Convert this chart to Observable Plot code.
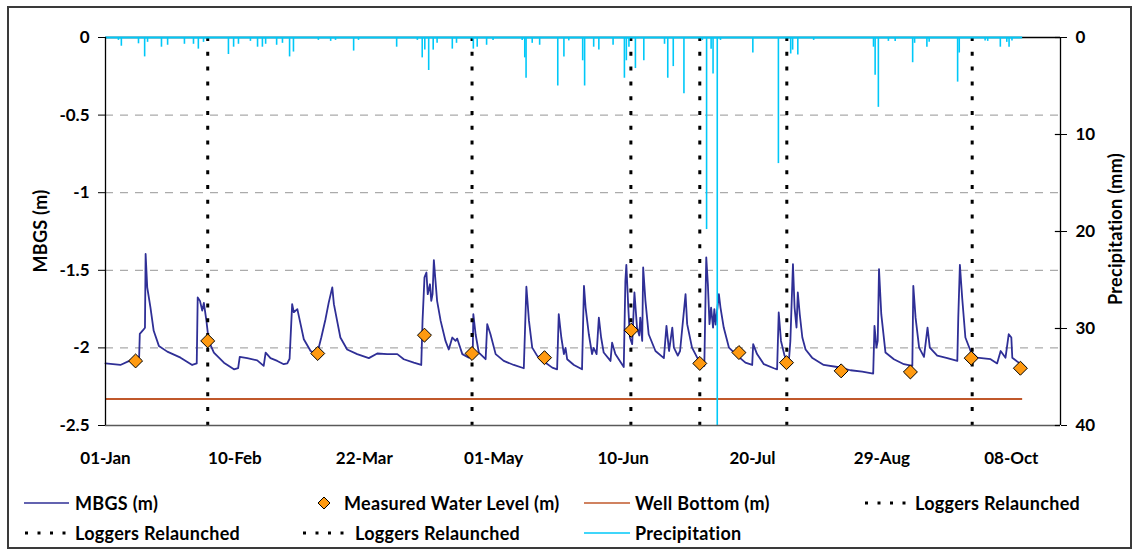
<!DOCTYPE html>
<html>
<head>
<meta charset="utf-8">
<script src="https://cdn.jsdelivr.net/npm/d3@7"></script>
<script src="https://cdn.jsdelivr.net/npm/@observablehq/plot@0.6"></script>
<style>
  html, body { margin: 0; padding: 0; background: #fff; }
  body { width: 1138px; height: 550px; position: relative; overflow: hidden; font-family: Lato, sans-serif; font-weight: 700; color: #000; }
  #chart { position: absolute; left: 0; top: 0; }
  #frame { position: absolute; left: 7px; top: 6px; width: 1121px; height: 539px; border: 2px solid #3a3a3a; pointer-events: none; }
  .leg { position: absolute; font-size: 18px; letter-spacing: 0.3px; line-height: 22px; white-space: nowrap; }
  .sw { position: absolute; }
  .ytitle { position: absolute; font-size: 18px; letter-spacing: 0.3px; white-space: nowrap; transform: translate(-50%, -50%) rotate(-90deg); }
</style>
</head>
<body>
<div id="chart"></div>
<div id="legend"></div>
<div class="ytitle" id="ylab" style="left:40px; top:231px;"></div>
<div class="ytitle" id="y2lab" style="left:1115px; top:229px;"></div>
<div id="frame"></div>
<script>
// ---- DATA (days counted from 01-Jan) ----
const mbgsDay = [0,4.6,7.7,10.4,10.6,11.6,12.2,12.4,12.9,13.9,14.9,16.5,19.1,23.2,26.8,28.2,28.5,29.2,29.9,30.4,31.2,31.9,33.5,36.6,39.7,41.0,41.5,43.8,46.9,48.9,49.5,51.0,53.1,55.1,56.2,56.9,57.7,58.2,59.3,60.3,61.3,63.4,65.4,66.7,68.0,69.0,70.1,70.6,71.6,72.6,74.7,77.8,81.4,84.0,87.1,90.2,92.2,95.3,97.6,98.0,98.6,99.2,99.6,100.3,100.7,101.1,101.5,102.0,102.5,103.6,105.1,106.1,107.2,108.2,108.7,110.3,112.3,113.5,113.7,114.4,115.4,117.5,118.0,119.0,120.6,123.1,126.2,129.3,129.7,130.1,130.9,131.9,133.4,135.5,138.1,139.6,140.1,140.9,141.7,142.2,142.7,144.8,147.3,147.9,148.4,149.4,150.4,150.9,151.8,152.5,153.2,154.0,156.1,156.6,157.6,160.2,160.7,161.0,161.6,162.1,162.8,163.5,164.3,165.0,165.3,165.9,166.2,166.9,167.9,170.0,172.6,173.4,174.2,175.2,175.7,176.9,177.6,179.3,179.8,181.3,182.9,185.1,185.7,186.2,186.7,187.2,187.8,188.2,188.6,189.6,190.1,191.1,192.7,195.3,197.8,199.9,200.2,201.4,203.5,206.6,207.6,208.1,208.8,209.9,211.2,211.7,212.5,213.0,213.6,214.0,214.6,215.4,216.4,218.4,222.0,226.2,230.3,233.9,237.3,237.7,238.3,238.7,239.1,239.8,241.1,243.7,246.8,249.4,249.7,250.4,251.5,253.0,254.1,254.8,257.1,260.2,263.3,263.6,264.1,264.8,265.8,267.4,269.4,273.6,275.6,276.7,278.2,279.2,280.0,280.3,282.3,283.8];
const mbgsValue = [-2.10,-2.11,-2.08,-2.06,-1.91,-1.886,-1.87,-1.395,-1.61,-1.74,-1.89,-1.987,-2.024,-2.063,-2.11,-2.10,-1.675,-1.697,-1.76,-1.71,-1.826,-1.955,-2.03,-2.095,-2.138,-2.13,-2.058,-2.066,-2.08,-2.116,-2.03,-2.066,-2.084,-2.105,-2.10,-2.07,-1.718,-1.77,-1.75,-1.847,-1.944,-2.02,-2.04,-1.933,-1.815,-1.708,-1.61,-1.718,-1.826,-1.933,-2.01,-2.04,-2.066,-2.036,-2.04,-2.04,-2.073,-2.095,-2.11,-1.826,-1.546,-1.514,-1.654,-1.59,-1.697,-1.654,-1.434,-1.568,-1.697,-1.826,-1.955,-2.01,-1.933,-1.955,-1.94,-2.04,-2.063,-2.06,-1.783,-1.912,-2.03,-2.073,-1.847,-1.912,-2.04,-2.084,-2.11,-2.131,-1.869,-1.606,-1.826,-1.998,-2.05,-2.088,-2.127,-2.138,-1.783,-1.933,-2.04,-2.0,-2.073,-2.11,-2.138,-1.60,-1.74,-1.912,-2.04,-2.0,-2.04,-1.805,-1.933,-2.03,-2.084,-1.966,-2.04,-2.123,-1.568,-1.465,-1.74,-1.933,-1.976,-1.643,-1.869,-1.92,-1.805,-1.955,-1.482,-1.697,-1.912,-2.02,-2.066,-1.858,-2.02,-1.869,-1.998,-2.05,-2.02,-1.654,-1.847,-1.998,-2.063,-2.116,-1.417,-1.589,-1.847,-1.74,-1.869,-1.75,-1.85,-1.654,-1.74,-1.869,-1.998,-2.05,-2.095,-2.11,-1.976,-2.04,-2.105,-2.131,-2.138,-1.772,-1.955,-2.05,-2.095,-1.955,-1.46,-1.74,-1.869,-1.643,-1.783,-1.933,-2.01,-2.063,-2.11,-2.123,-2.144,-2.153,-2.166,-1.858,-1.998,-1.955,-1.492,-1.783,-2.03,-2.073,-2.105,-2.116,-1.60,-1.805,-1.998,-2.058,-1.869,-1.998,-2.05,-2.066,-2.084,-1.805,-1.465,-1.675,-1.933,-2.02,-2.063,-2.073,-2.10,-2.02,-2.063,-1.912,-1.933,-2.063,-2.095,-2.127];

const measuredDay = [9.3,31.6,65.6,98.6,113.3,135.7,162.5,183.7,195.8,210.5,227.4,248.8,267.6,282.8];
const measuredValue = [-2.084,-1.955,-2.036,-1.918,-2.036,-2.063,-1.886,-2.10,-2.03,-2.095,-2.148,-2.155,-2.066,-2.131];

const relaunchDay = [31.6,113.3,162.4,183.7,210.6,267.9];

const wellBottomM = -2.33;
const recordStartDay = 0;
const recordEndDay = 283.5;

const precipDay = [4.0,4.9,10.2,12.1,13.0,17.3,19.2,24.4,27.2,28.7,30.3,38.0,39.6,41.1,44.8,47.0,48.5,49.5,52.9,54.7,56.9,58.1,65.8,69.6,71.1,76.7,78.2,90.0,96.4,97.9,98.7,99.9,101.3,102.5,107.2,108.5,113.7,114.9,117.8,119.8,128.8,129.6,130.0,131.9,134.2,139.8,141.7,143.2,147.5,148.1,150.9,152.5,156.9,160.4,161.0,161.8,163.8,166.4,172.8,173.8,175.5,178.8,184.5,185.8,187.2,187.8,189.1,190.1,200.1,208.0,211.8,212.4,214.0,218.9,237.4,237.9,238.9,242.0,244.1,249.5,250.1,253.9,254.6,263.4,263.9,271.9,272.7,276.6,278.6,279.3,280.2];
const precipMm = [0.3,0.9,0.65,2.0,0.5,1.0,0.8,0.7,0.7,1.2,0.5,1.75,1.0,0.7,0.4,1.0,1.0,0.7,0.8,0.6,2.0,1.5,0.3,0.4,0.3,1.4,0.3,1.0,0.3,2.1,1.3,3.4,1.3,0.6,1.2,0.6,1.2,1.0,0.8,0.3,0.3,2.1,4.2,0.6,0.8,5.0,2.0,0.35,2.4,5.0,1.0,1.3,0.8,4.2,2.4,1.0,3.2,2.4,0.7,4.2,3.0,5.8,0.3,19.8,1.2,3.75,40,0.3,1.6,13.0,1.7,1.3,1.8,0.3,1.0,3.9,7.2,0.4,0.4,2.6,0.6,1.0,0.5,4.6,1.6,0.35,0.4,1.0,0.5,1.0,0.35];

const xTickDay = [0,40,80,120,160,200,240,280];
const yTicks = [0,-0.5,-1,-1.5,-2,-2.5];
const gridTicks = [-0.5,-1,-1.5,-2];
const precipTicks = [0,10,20,30,40];
const xDomainDay = [0,295.2];
const yDomain = [-2.5,0];
const precipMax = 40;
const yTitle = "MBGS (m)";
const y2Title = "Precipitation (mm)";

// ---- build ----
const T0 = Date.UTC(2015,0,1);
const toDate = d => new Date(T0 + d * 864e5);
const mmToY = mm => yDomain[0] * mm / precipMax; // secondary reversed axis mapped onto primary

const mbgs = mbgsDay.map((d,i) => ({date: toDate(d), v: mbgsValue[i]}));
const measured = measuredDay.map((d,i) => ({date: toDate(d), v: measuredValue[i]}));
const relaunch = relaunchDay.map(toDate);
const precip = precipDay.map((d,i) => ({date: toDate(d), mm: precipMm[i]}));

const C_MBGS = "#2f2f96", C_PREC = "#00c8f8", C_WELL = "#c0582b", C_DIAM = "#ff9a10";

const chart = Plot.plot({
  width: 1138, height: 470,
  marginLeft: 105, marginRight: 78, marginTop: 37, marginBottom: 45,
  style: {fontFamily: "Lato, sans-serif", fontWeight: "700", fontSize: "17px", color: "#000", background: "transparent", overflow: "visible"},
  x: {type: "utc", domain: xDomainDay.map(toDate)},
  y: {domain: yDomain},
  marks: [
    Plot.ruleY(gridTicks, {stroke: "#ababab", strokeWidth: 1.3, strokeDasharray: "8,7"}),
    Plot.ruleY([0], {stroke: "#000", strokeWidth: 1.3}),
    Plot.ruleY([wellBottomM], {x1: toDate(recordStartDay), x2: toDate(recordEndDay), stroke: C_WELL, strokeWidth: 2}),
    Plot.line(mbgs, {x: "date", y: "v", stroke: C_MBGS, strokeWidth: 1.8, strokeLinejoin: "round"}),
    Plot.ruleX(relaunch, {y1: yDomain[1], y2: yDomain[0], stroke: "#000", strokeWidth: 3, strokeDasharray: "4,10.8"}),
    Plot.ruleY([0], {x1: toDate(recordStartDay), x2: toDate(recordEndDay), stroke: C_PREC, strokeWidth: 2}),
    Plot.ruleX(precip, {x: "date", y1: 0, y2: d => mmToY(d.mm), stroke: C_PREC, strokeWidth: 1.6}),
    Plot.dot(measured, {x: "date", y: "v", symbol: "diamond2", r: 6.3, fill: C_DIAM, stroke: "#000", strokeWidth: 1}),
    Plot.ruleY([yDomain[0]], {stroke: "#595959", strokeWidth: 1.6}),
    Plot.ruleX([toDate(xDomainDay[0])], {stroke: "#000", strokeWidth: 1.3}),
    Plot.ruleX([toDate(xDomainDay[1])], {stroke: "#000", strokeWidth: 1.3}),
    Plot.ruleY(precipTicks.map(mmToY), {x1: toDate(xDomainDay[1] - 1.6), x2: toDate(xDomainDay[1]), stroke: "#000", strokeWidth: 1.2}),
    Plot.axisX({ticks: xTickDay.map(toDate), tickFormat: d3.utcFormat("%d-%b"), tickSize: 0, tickPadding: 26, label: null}),
    Plot.axisY({anchor: "left", ticks: yTicks, tickFormat: d => String(d), tickSize: 7, tickPadding: 9, label: null, fontSize: 17}),
    Plot.axisY({anchor: "right", ticks: precipTicks.map(mmToY), tickFormat: d => String(Math.round(d / yDomain[0] * precipMax)), tickSize: 6, tickPadding: 9, label: null, fontSize: 17})
  ]
});
document.getElementById("chart").appendChild(chart);
document.getElementById("ylab").textContent = yTitle;
document.getElementById("y2lab").textContent = y2Title;

// ---- legend ----
const legendItems = [
  {label: "MBGS (m)", kind: "line", color: C_MBGS, sx: 24, sw: 45, tx: 75, cy: 503},
  {label: "Measured Water Level (m)", kind: "diamond", color: C_DIAM, sx: 317, sw: 14, tx: 344, cy: 503},
  {label: "Well Bottom (m)", kind: "line", color: C_WELL, sx: 584, sw: 46, tx: 635, cy: 503},
  {label: "Loggers Relaunched", kind: "dots", color: "#000", sx: 864, sw: 48, tx: 915, cy: 503},
  {label: "Loggers Relaunched", kind: "dots", color: "#000", sx: 24, sw: 49, tx: 75, cy: 533},
  {label: "Loggers Relaunched", kind: "dots", color: "#000", sx: 302, sw: 51, tx: 355, cy: 533},
  {label: "Precipitation", kind: "line", color: C_PREC, sx: 584, sw: 46, tx: 635, cy: 533}
];
const leg = document.getElementById("legend");
legendItems.forEach(it => {
  const s = document.createElementNS("http://www.w3.org/2000/svg", "svg");
  s.setAttribute("class", "sw");
  s.setAttribute("width", it.sw); s.setAttribute("height", 14);
  s.style.left = it.sx + "px"; s.style.top = (it.cy - 7) + "px";
  if (it.kind === "line") {
    s.innerHTML = `<line x1="0" x2="${it.sw}" y1="7" y2="7" stroke="${it.color}" stroke-width="1.5"/>`;
  } else if (it.kind === "dots") {
    s.innerHTML = `<line x1="1" x2="${it.sw}" y1="7" y2="7" stroke="#000" stroke-width="3" stroke-dasharray="3,9.5"/>`;
  } else {
    s.innerHTML = `<path d="M7,1 L13,7 L7,13 L1,7 Z" fill="${it.color}" stroke="#000" stroke-width="1"/>`;
  }
  leg.appendChild(s);
  const t = document.createElement("div");
  t.className = "leg";
  t.textContent = it.label;
  t.style.left = it.tx + "px"; t.style.top = (it.cy - 11) + "px";
  leg.appendChild(t);
});
</script>
</body>
</html>
